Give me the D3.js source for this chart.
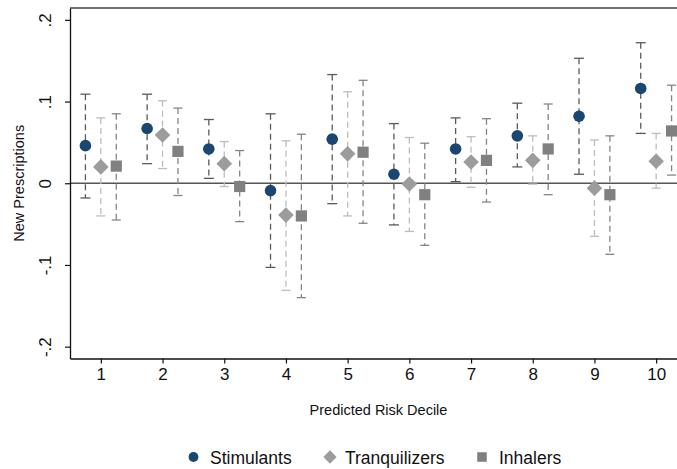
<!DOCTYPE html>
<html><head><meta charset="utf-8">
<script src="https://cdn.jsdelivr.net/npm/d3@7"></script>
<style>body{margin:0;background:#fff}svg{display:block}text{font-family:"Liberation Sans",Arial,Helvetica,sans-serif;fill:#111}</style>
</head><body><svg id="c" width="677" height="469"></svg>
<script>
const deciles = [1,2,3,4,5,6,7,8,9,10];
const seriesNames = ["Stimulants","Tranquilizers","Inhalers"];
const stimEst = [0.046,0.067,0.042,-0.009,0.054,0.011,0.042,0.058,0.082,0.116];
const stimLo  = [-0.018,0.024,0.006,-0.103,-0.025,-0.051,0.002,0.020,0.011,0.061];
const stimHi  = [0.109,0.109,0.078,0.085,0.133,0.073,0.080,0.098,0.153,0.172];
const tranEst = [0.020,0.059,0.024,-0.039,0.036,-0.001,0.026,0.028,-0.006,0.027];
const tranLo  = [-0.040,0.018,-0.004,-0.131,-0.040,-0.059,-0.005,-0.001,-0.065,-0.006];
const tranHi  = [0.080,0.101,0.051,0.052,0.112,0.056,0.057,0.058,0.053,0.061];
const inhEst  = [0.021,0.039,-0.004,-0.040,0.038,-0.014,0.028,0.042,-0.014,0.064];
const inhLo   = [-0.045,-0.015,-0.047,-0.140,-0.049,-0.076,-0.023,-0.014,-0.087,0.010];
const inhHi   = [0.085,0.092,0.040,0.060,0.126,0.049,0.079,0.097,0.058,0.120];
const yTicks = [-0.2,-0.1,0,0.1,0.2];
const yTickLabels = ["-.2","-.1","0",".1",".2"];
const offsets = [-0.25,0,0.25];

(function(){
const svg = d3.select("#c");
const pL = 70, pR = 687, pT = 8, pB = 358.5;
const x = d3.scaleLinear().domain([0.5,10.5]).range([pL,pR]);
const y = d3.scaleLinear().domain([-0.2145,0.2145]).range([pB,pT]);

const series = [
  {name:seriesNames[0], est:stimEst, lo:stimLo, hi:stimHi, off:offsets[0], bar:"#5a5a5a", fill:"#1a476f", shape:"circle", cap:10},
  {name:seriesNames[1], est:tranEst, lo:tranLo, hi:tranHi, off:offsets[1], bar:"#bdbdbd", fill:"#9c9c9c", shape:"diamond", cap:9},
  {name:seriesNames[2], est:inhEst, lo:inhLo, hi:inhHi, off:offsets[2], bar:"#858585", fill:"#808080", shape:"square", cap:9}
];

function drawMarker(g, shape, cx, cy, fill, k){
  if(shape==="circle") g.append("circle").attr("cx",cx).attr("cy",cy).attr("r",5.8*k).attr("fill",fill);
  else if(shape==="diamond"){ const r=7.8*k; g.append("path").attr("d",`M${cx},${cy-r}L${cx+r},${cy}L${cx},${cy+r}L${cx-r},${cy}Z`).attr("fill",fill);}
  else { const h=5.6*k; g.append("rect").attr("x",cx-h).attr("y",cy-h).attr("width",2*h).attr("height",2*h).attr("fill",fill);}
}

svg.append("line").attr("x1",pL).attr("x2",pR).attr("y1",pT).attr("y2",pT).attr("stroke","#444").attr("stroke-width",1.3);
svg.append("line").attr("x1",pL).attr("x2",pR).attr("y1",y(0)).attr("y2",y(0)).attr("stroke","#555").attr("stroke-width",1.5);

const yAxis = d3.axisLeft(y).tickValues(yTicks).tickSize(5).tickSizeOuter(0).tickFormat((d,i)=>yTickLabels[i]);
const ga = svg.append("g").attr("transform",`translate(${pL},0)`).call(yAxis);
ga.select(".domain").attr("stroke","#111").attr("stroke-width",1.3);
ga.selectAll(".tick line").attr("stroke","#111").attr("stroke-width",1.2);
ga.selectAll(".tick text").attr("font-size",17).attr("fill","#111")
  .attr("x",null).attr("dy",null).attr("text-anchor","middle")
  .attr("transform","translate(-23,0) rotate(-90)").attr("dominant-baseline","middle");

const xAxis = d3.axisBottom(x).tickValues(deciles).tickSize(5).tickSizeOuter(0).tickFormat(d3.format("d"));
const gx = svg.append("g").attr("transform",`translate(0,${pB})`).call(xAxis);
gx.select(".domain").attr("stroke","#111").attr("stroke-width",1.3);
gx.selectAll(".tick line").attr("stroke","#111").attr("stroke-width",1.2);
gx.selectAll(".tick text").attr("font-size",17).attr("fill","#111").attr("y",9).attr("dy","0.71em");

svg.append("text").attr("x",(pL+pR)/2).attr("y",415).attr("text-anchor","middle").attr("font-size",14.5).text("Predicted Risk Decile");
svg.append("text").attr("transform",`translate(24,${(pT+pB)/2}) rotate(-90)`).attr("text-anchor","middle").attr("font-size",14.5).text("New Prescriptions");

series.forEach(s=>{
  const g = svg.append("g");
  deciles.forEach((d,i)=>{
    const cx = x(d + s.off);
    g.append("line").attr("x1",cx).attr("x2",cx).attr("y1",y(s.hi[i])).attr("y2",y(s.lo[i]))
      .attr("stroke",s.bar).attr("stroke-width",1.3).attr("stroke-dasharray","6,4");
    [s.hi[i], s.lo[i]].forEach(v=>{
      g.append("line").attr("x1",cx-s.cap/2).attr("x2",cx+s.cap/2).attr("y1",y(v)).attr("y2",y(v))
        .attr("stroke",s.bar).attr("stroke-width",1.3);
    });
  });
  deciles.forEach((d,i)=>{
    drawMarker(g, s.shape, x(d + s.off), y(s.est[i]), s.fill, 1);
  });
});

const legX = [193.5, 330, 482];
const legTX = [210, 345, 499];
series.forEach((s,i)=>{
  drawMarker(svg, s.shape, legX[i], 457, s.fill, 0.85);
  svg.append("text").attr("x",legTX[i]).attr("y",463.5).attr("font-size",17.5).text(s.name);
});
})();
</script></body></html>
